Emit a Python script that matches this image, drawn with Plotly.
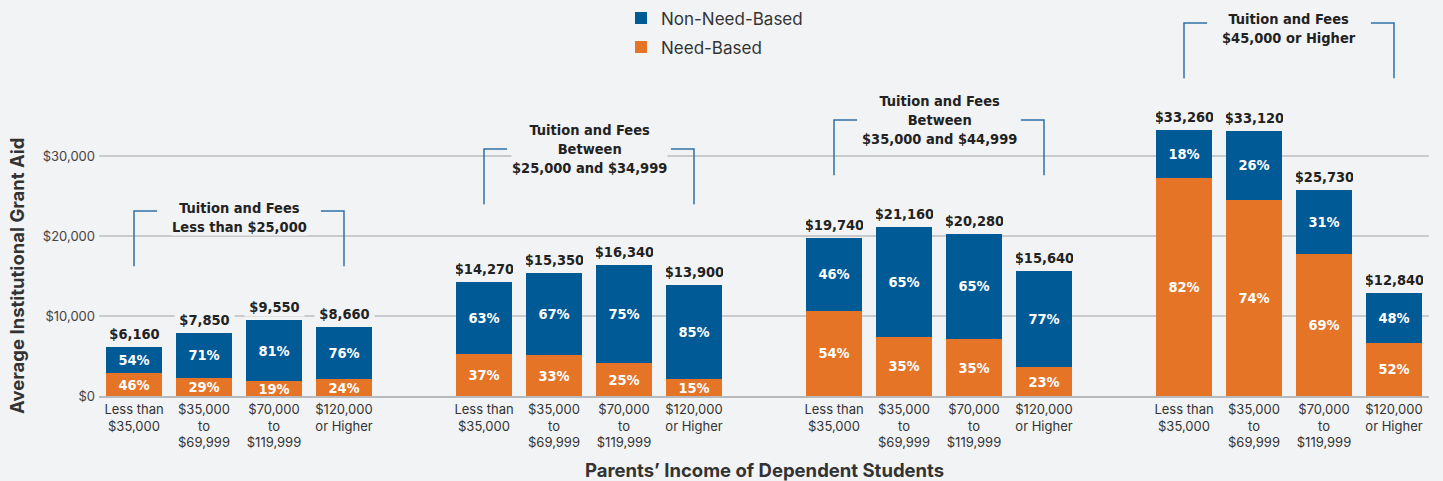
import plotly.graph_objects as go

# ---- data -------------------------------------------------------------
tuition_groups = [
    "Tuition and Fees<br>Less than $25,000",
    "Tuition and Fees<br>Between<br>$25,000 and $34,999",
    "Tuition and Fees<br>Between<br>$35,000 and $44,999",
    "Tuition and Fees<br>$45,000 or Higher",
]
income_labels = [
    "Less than<br>$35,000",
    "$35,000<br>to<br>$69,999",
    "$70,000<br>to<br>$119,999",
    "$120,000<br>or Higher",
]
total_aid = [
    [6160, 7850, 9550, 8660],
    [14270, 15350, 16340, 13900],
    [19740, 21160, 20280, 15640],
    [33260, 33120, 25730, 12840],
]
need_based_pct = [
    [46, 29, 19, 24],
    [37, 33, 25, 15],
    [54, 35, 35, 23],
    [82, 74, 69, 52],
]
non_need_based_pct = [
    [54, 71, 81, 76],
    [63, 67, 75, 85],
    [46, 65, 65, 77],
    [18, 26, 31, 48],
]
y_ticks = [0, 10000, 20000, 30000]
y_tick_labels = ["$0", "$10,000", "$20,000", "$30,000"]

# ---- style ------------------------------------------------------------
BG = "#f2f3f5"
BLUE = "#005a96"
ORANGE = "#e57427"
BRACKET = "#2f72a8"
TEXT = "#222222"
GRID = "#c9cacd"
REG_FONT = "Inter, Roboto, sans-serif"
TITLE_FONT = "Inter, Roboto, sans-serif"
COND_FONT = "Liberation Sans Narrow, DejaVu Sans Condensed, Roboto Condensed, Roboto"
COND_SIZE = 14.5

# bracket geometry (y in data units) and title offsets (px)
bracket_top = [23125, 30875, 34500, 46625]
title_shift = [-6, 0, 0, -5]
bracket_drop = 6900
stub = 0.33

# ---- positions: four bars per group, one empty slot between groups ----
xs, needs, non_needs, need_txt, non_txt, totals, ticktext = [], [], [], [], [], [], []
group_centers = []
for g in range(len(tuition_groups)):
    base = g * 5
    group_centers.append(base + 1.5)
    for i in range(4):
        t = total_aid[g][i]
        n = t * need_based_pct[g][i] / 100
        xs.append(base + i)
        needs.append(n)
        non_needs.append(t - n)
        need_txt.append(f"{need_based_pct[g][i]}%")
        non_txt.append(f"{non_need_based_pct[g][i]}%")
        totals.append(t)
        ticktext.append(income_labels[i])

fig = go.Figure()
common = dict(
    x=xs,
    textposition="inside",
    insidetextanchor="middle",
    constraintext="none",
    textangle=0,
    textfont=dict(family=COND_FONT, size=COND_SIZE, color="white", weight="bold"),
    hoverinfo="skip",
    marker_line_width=0,
)
fig.add_trace(go.Bar(y=needs, text=need_txt, name="Need-Based",
                     legendgroup="need", legendrank=2,
                     marker_color=ORANGE, **common))
fig.add_trace(go.Bar(y=non_needs, text=non_txt, name="Non-Need-Based",
                     legendgroup="nonneed", legendrank=1,
                     marker_color=BLUE, **common))

# total labels above each bar
for x, t in zip(xs, totals):
    fig.add_annotation(
        x=x, y=t, text=f"${t:,}", showarrow=False, yanchor="bottom", yshift=3,
        width=57, bgcolor=BG, borderpad=1,
        font=dict(family=COND_FONT, size=COND_SIZE, color=TEXT, weight="bold"),
    )

# group brackets with titles
for g, title in enumerate(tuition_groups):
    x0 = g * 5
    x1 = x0 + 3
    top = bracket_top[g]
    bot = top - bracket_drop
    line = dict(color=BRACKET, width=1.5)
    fig.add_shape(type="path", xref="x", yref="y", line=line,
                  path=f"M {x0} {bot} L {x0} {top} L {x0 + stub} {top}")
    fig.add_shape(type="path", xref="x", yref="y", line=line,
                  path=f"M {x1 - stub} {top} L {x1} {top} L {x1} {bot}")
    fig.add_annotation(
        x=group_centers[g], y=top, text=title, showarrow=False,
        yanchor="middle", yshift=title_shift[g], bgcolor=BG, borderpad=0,
        font=dict(family=COND_FONT, size=COND_SIZE, color=TEXT, weight="bold"),
    )

# axis titles
fig.add_annotation(
    xref="paper", yref="paper", x=(17 - 99) / 1330, y=(396 - 276) / 386,
    xanchor="center", yanchor="middle",
    text="Average Institutional Grant Aid", textangle=-90, showarrow=False,
    font=dict(family=TITLE_FONT, size=18.5, color="#333333", weight="bold"),
)
fig.add_annotation(
    xref="paper", yref="paper", x=(764 - 99) / 1330, y=-(470 - 396) / 386,
    xanchor="center", yanchor="middle",
    text="Parents’ Income of Dependent Students", showarrow=False,
    font=dict(family=TITLE_FONT, size=18.5, color="#333333", weight="bold"),
)

fig.update_layout(
    width=1443, height=481,
    margin=dict(l=99, r=14, t=10, b=85, autoexpand=False),
    paper_bgcolor=BG, plot_bgcolor=BG,
    barmode="stack", bargap=0.19,
    showlegend=True,
    legend=dict(
        x=(621 - 99) / 1330, xanchor="left", y=1.025, yanchor="top",
        traceorder="grouped", tracegroupgap=4,
        bgcolor="rgba(0,0,0,0)",
        font=dict(family=REG_FONT, size=17, color="#333333"),
    ),
    xaxis=dict(
        range=[-0.5, 18.5], tickvals=xs, ticktext=ticktext,
        showgrid=False, showline=True, linecolor="#b8b9bc", linewidth=2,
        ticks="", tickfont=dict(family=REG_FONT, size=13, color="#333333"),
        zeroline=False,
    ),
    yaxis=dict(
        range=[0, 48250], tickvals=y_ticks, ticktext=y_tick_labels,
        showgrid=True, gridcolor=GRID, gridwidth=1.5, zeroline=False,
        ticks="", ticklabelstandoff=3,
        tickfont=dict(family=REG_FONT, size=13, color="#444444"),
    ),
)

fig.write_html("out.html")
